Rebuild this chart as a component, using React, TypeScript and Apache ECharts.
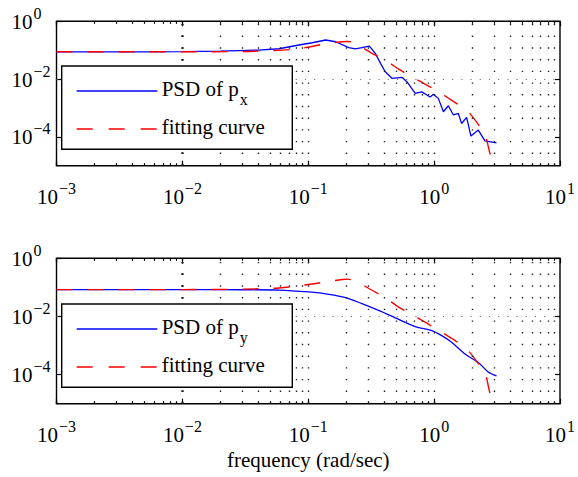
import React, { useEffect, useRef } from 'react';
import * as echarts from 'echarts';

const FONT = 'Liberation Serif';

// tick labels
const xTicks = [0.001, 0.01, 0.1, 1, 10];
const yTicks = [0.0001, 0.01, 1];
const gridDecades = [0.001, 0.01, 0.1, 1];
const gridMultipliers = [1, 2, 3, 4, 5, 6, 7, 8, 9];
const yGridLines = [0.0001, 0.01];

// top: PSD of p_x
const freqPx = [0.001, 0.002, 0.005, 0.01, 0.02, 0.0283, 0.04, 0.0586, 0.0843, 0.1076, 0.1375, 0.165, 0.21, 0.237, 0.267, 0.306, 0.341, 0.375, 0.409, 0.462, 0.555, 0.607, 0.708, 0.798, 0.875, 0.929, 0.988, 1.082, 1.185, 1.298, 1.422, 1.557, 1.653, 1.811, 1.962, 2.243, 2.534, 3.13];
const psdPx = [0.088, 0.088, 0.088, 0.089, 0.093, 0.097, 0.101, 0.112, 0.151, 0.181, 0.225, 0.196, 0.122, 0.11, 0.122, 0.139, 0.078, 0.035, 0.0179, 0.0106, 0.0115, 0.0081, 0.0032, 0.0036, 0.0028, 0.0024, 0.003, 0.0021, 0.00074, 0.00119, 0.00057, 0.00065, 0.00029, 0.00047, 0.000106, 0.000171, 0.0000727, 0.0000619];

const freqFitX = [0.001, 0.01, 0.03, 0.05, 0.0726, 0.0897, 0.1045, 0.1375, 0.186, 0.204, 0.225, 0.244, 0.321, 0.409, 0.522, 0.666, 0.875, 1.115, 1.439, 1.811, 2.213, 2.56, 2.77, 3.0, 3.1];
const fitX = [0.088, 0.088, 0.09, 0.096, 0.105, 0.118, 0.132, 0.168, 0.196, 0.2, 0.19, 0.16, 0.078, 0.0456, 0.0222, 0.012, 0.0062, 0.00335, 0.00163, 0.00084, 0.00029, 0.0001, 0.000028, 0.0000085, 0.000001];

// bottom: PSD of p_y
const freqPy = [0.001, 0.005, 0.01, 0.03, 0.0586, 0.1014, 0.146, 0.198, 0.267, 0.362, 0.491, 0.708, 0.957, 1.149, 1.377, 1.758, 2.243, 2.69, 3.13];
const psdPy = [0.084, 0.084, 0.084, 0.083, 0.081, 0.0695, 0.0579, 0.0445, 0.0275, 0.0161, 0.009, 0.0045, 0.00327, 0.00219, 0.00129, 0.000509, 0.00026, 0.000124, 0.00009];

const freqFitY = [0.001, 0.01, 0.03, 0.0586, 0.1045, 0.1375, 0.186, 0.204, 0.244, 0.321, 0.409, 0.522, 0.666, 0.875, 1.115, 1.439, 1.811, 2.213, 2.56, 2.77, 3.0, 3.1];
const fitY = [0.084, 0.084, 0.087, 0.0957, 0.1285, 0.1545, 0.187, 0.192, 0.1545, 0.0797, 0.0445, 0.021, 0.0117, 0.00586, 0.00309, 0.00156, 0.00076, 0.00026, 0.0000977, 0.0000238, 0.0000089, 0.000001];

const GRID_LEFT = 56.5;
const GRID_W = 505.6;
const GRID_TOPS = [21.3, 258.3];
const GRID_H = [144.4, 145.4];

const pair = (xs: number[], ys: number[]) => xs.map((x, i) => [x, ys[i]]);

const powFormatter = (v: number) => {
  const e = Math.round(Math.log10(v));
  const s = e < 0 ? '\u2212' + -e : String(e);
  return `{b|10}{s|${s}}`;
};

const labelRich = {
  b: { fontSize: 21, fontFamily: FONT, color: '#000', lineHeight: 22, verticalAlign: 'bottom' },
  s: { fontSize: 16, fontFamily: FONT, color: '#000', lineHeight: 16, verticalAlign: 'bottom', padding: [0, 0, 11, 1] },
};

export default function App() {
  const ref = useRef<HTMLDivElement>(null);
  useEffect(() => {
    if (!ref.current) return;
    const chart = echarts.init(ref.current, null, { renderer: 'svg' });

    const minorVals: number[] = [];
    gridDecades.forEach((d) => gridMultipliers.forEach((m) => minorVals.push(+(d * m).toPrecision(3))));
    const gridVals = minorVals.filter((v) => v > 0.001);

    const grids = GRID_TOPS.map((t, i) => ({
      left: GRID_LEFT,
      top: t,
      width: GRID_W,
      height: GRID_H[i],
      show: true,
      borderColor: '#000',
      borderWidth: 1.4,
      backgroundColor: 'transparent',
    }));

    const tickStyle = { color: '#000', width: 1.2 };
    const xAxes: any[] = [];
    const yAxes: any[] = [];
    [0, 1].forEach((g) => {
      const base = { type: 'log', logBase: 10, gridIndex: g, min: 0.001, max: 10, axisLine: { show: false }, splitLine: { show: false } };
      xAxes.push({
        ...base,
        position: 'bottom',
        axisTick: { inside: true, length: 5, customValues: xTicks, lineStyle: tickStyle },
        axisLabel: { customValues: xTicks, formatter: powFormatter, rich: labelRich, margin: 20, color: '#000', fontFamily: FONT },
        ...(g === 1
          ? {
              name: 'frequency (rad/sec)',
              nameLocation: 'middle',
              nameGap: 46,
              nameTextStyle: { fontSize: 21, fontFamily: FONT, color: '#000' },
            }
          : {}),
      });
      xAxes.push({
        ...base,
        position: 'top',
        axisTick: { inside: true, length: 5, customValues: xTicks, lineStyle: tickStyle },
        axisLabel: { show: false },
      });
      xAxes.push({
        ...base,
        position: 'bottom',
        axisTick: { inside: true, length: 2.5, customValues: minorVals, lineStyle: tickStyle },
        axisLabel: { show: false },
      });
      xAxes.push({
        ...base,
        position: 'top',
        axisTick: { inside: true, length: 2.5, customValues: minorVals, lineStyle: tickStyle },
        axisLabel: { show: false },
      });
      const ybase = { type: 'log', logBase: 10, gridIndex: g, min: 0.00001, max: 1, axisLine: { show: false }, splitLine: { show: false } };
      yAxes.push({
        ...ybase,
        position: 'left',
        axisTick: { inside: true, length: 5, customValues: yTicks, lineStyle: tickStyle },
        axisLabel: { customValues: yTicks, formatter: powFormatter, rich: labelRich, align: 'left', margin: 45, color: '#000', fontFamily: FONT },
      });
      yAxes.push({
        ...ybase,
        position: 'right',
        axisTick: { inside: true, length: 5, customValues: yTicks, lineStyle: tickStyle },
        axisLabel: { show: false },
      });
    });

    const gridMarkLine = {
      silent: true,
      symbol: ['none', 'none'],
      label: { show: false },
      animation: false,
      emphasis: { disabled: true },
      data: [
        ...gridVals.map((v) => ({ xAxis: v, lineStyle: { color: '#222', width: 1.4, type: [1.4, 10.3], opacity: 1 } })),
        ...yGridLines.map((v) => ({ yAxis: v, lineStyle: { color: '#777', width: 1, type: [1.2, 8], opacity: 1 } })),
      ],
    };

    const mkSeries = (g: number, blue: number[][], red: number[][], blueName: string) => [
      {
        type: 'line',
        name: 'grid' + g,
        xAxisIndex: g * 4,
        yAxisIndex: g * 2,
        data: [],
        symbol: 'none',
        silent: true,
        z: 1,
        markLine: gridMarkLine,
      },
      {
        type: 'line',
        name: blueName,
        xAxisIndex: g * 4,
        yAxisIndex: g * 2,
        data: blue,
        showSymbol: false,
        symbol: 'none',
        smooth: g === 1 ? 0.3 : false,
        lineStyle: { color: '#0000ff', width: 1.3 },
        z: 3,
      },
      {
        type: 'line',
        name: 'fitting curve',
        xAxisIndex: g * 4,
        yAxisIndex: g * 2,
        data: red,
        showSymbol: false,
        symbol: 'none',
        smooth: 0.3,
        lineStyle: { color: '#ff0000', width: 1.4, type: [16, 15] },
        z: 4,
      },
    ];

    const legendGraphic = (dy: number, sub: string) => ({
      type: 'group',
      children: [
        {
          type: 'rect',
          shape: { x: 61.7, y: 66 + dy, width: 230.6, height: 83.3 },
          style: { fill: '#fff', stroke: '#000', lineWidth: 1.4 },
          z: 100,
        },
        {
          type: 'line',
          shape: { x1: 76.7, y1: 91 + dy, x2: 157.3, y2: 91 + dy },
          style: { stroke: '#0000ff', lineWidth: 1.3 },
          z: 101,
        },
        {
          type: 'line',
          shape: { x1: 76.7, y1: 129 + dy, x2: 157.3, y2: 129 + dy },
          style: { stroke: '#ff0000', lineWidth: 1.4, lineDash: [16, 16] },
          z: 101,
        },
        {
          type: 'text',
          z: 101,
          style: {
            text: `{a|PSD of p}{s|${sub}}`,
            x: 161.7,
            y: 78 + dy,
            verticalAlign: 'top',
            fontFamily: FONT,
            rich: {
              a: { fontSize: 21, fontFamily: FONT, fill: '#000', color: '#000', lineHeight: 22, verticalAlign: 'top' },
              s: { fontSize: 16, fontFamily: FONT, fill: '#000', color: '#000', lineHeight: 16, verticalAlign: 'top', padding: [13, 0, 0, 1] },
            },
          },
        },
        {
          type: 'text',
          z: 101,
          style: {
            text: 'fitting curve',
            x: 161.7,
            y: 116 + dy,
            verticalAlign: 'top',
            fontSize: 21,
            fontFamily: FONT,
            fill: '#000',
            lineHeight: 22,
          },
        },
      ],
    });

    chart.setOption({
      animation: false,
      backgroundColor: '#fff',
      textStyle: { fontFamily: FONT },
      grid: grids,
      xAxis: xAxes,
      yAxis: yAxes,
      series: [
        ...mkSeries(0, pair(freqPx, psdPx), pair(freqFitX, fitX), 'PSD of px'),
        ...mkSeries(1, pair(freqPy, psdPy), pair(freqFitY, fitY), 'PSD of py'),
      ],
      graphic: [legendGraphic(0, 'x'), legendGraphic(238, 'y')],
    });

    return () => chart.dispose();
  }, []);

  return (
    <div
      ref={ref}
      style={{ position: 'fixed', left: 0, top: 0, width: 578, height: 477, background: '#fff' }}
    />
  );
}
